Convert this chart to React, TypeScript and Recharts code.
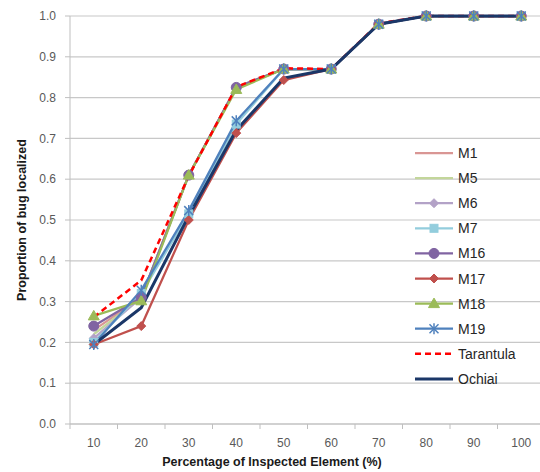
import React from "react";
import { LineChart, Line, XAxis, YAxis, CartesianGrid } from "recharts";

const categories = ["10", "20", "30", "40", "50", "60", "70", "80", "90", "100"];
const yTicks = [0, 0.1, 0.2, 0.3, 0.4, 0.5, 0.6, 0.7, 0.8, 0.9, 1.0];

const m1 = [0.23, 0.31, 0.61, 0.825, 0.87, 0.87, 0.98, 1, 1, 1];
const m5 = [0.22, 0.31, 0.61, 0.825, 0.87, 0.87, 0.98, 1, 1, 1];
const m6 = [0.21, 0.31, 0.61, 0.825, 0.87, 0.87, 0.98, 1, 1, 1];
const m7 = [0.2, 0.32, 0.515, 0.735, 0.87, 0.87, 0.98, 1, 1, 1];
const m16 = [0.24, 0.31, 0.61, 0.825, 0.87, 0.87, 0.98, 1, 1, 1];
const m17 = [0.195, 0.24, 0.5, 0.713, 0.843, 0.87, 0.98, 1, 1, 1];
const m18 = [0.265, 0.302, 0.61, 0.82, 0.87, 0.87, 0.98, 1, 1, 1];
const m19 = [0.195, 0.328, 0.523, 0.743, 0.87, 0.87, 0.98, 1, 1, 1];
const tarantula = [0.262, 0.352, 0.608, 0.826, 0.872, 0.87, 0.982, 1, 1, 1];
const ochiai = [0.195, 0.285, 0.51, 0.72, 0.848, 0.87, 0.98, 1, 1, 1];

type Shape = "none" | "diamond" | "square" | "circle" | "triangle" | "star";

const series: { key: string; values: number[]; color: string; width: number; dash?: string; shape: Shape }[] = [
  { key: "M1", values: m1, color: "#D99694", width: 2.25, shape: "none" },
  { key: "M5", values: m5, color: "#C3D69B", width: 2.25, shape: "none" },
  { key: "M6", values: m6, color: "#B3A2C7", width: 2.25, shape: "diamond" },
  { key: "M7", values: m7, color: "#93CDDD", width: 2.25, shape: "square" },
  { key: "M16", values: m16, color: "#8064A2", width: 2.25, shape: "circle" },
  { key: "M17", values: m17, color: "#C0504D", width: 2.25, shape: "diamond" },
  { key: "M18", values: m18, color: "#9BBB59", width: 2.25, shape: "triangle" },
  { key: "M19", values: m19, color: "#4F81BD", width: 2.25, shape: "star" },
  { key: "Tarantula", values: tarantula, color: "#FF0000", width: 2.5, dash: "6 4", shape: "none" },
  { key: "Ochiai", values: ochiai, color: "#1B3768", width: 3, shape: "none" },
];

const data = categories.map((c, i) => {
  const row: Record<string, string | number> = { x: c };
  series.forEach((s) => (row[s.key] = s.values[i]));
  return row;
});

const W = 545;
const H = 472;
const YW = 70;
const BW = (W - YW) / categories.length;

function marker(shape: Shape, color: string, cx: number, cy: number, key?: string) {
  switch (shape) {
    case "diamond":
      return <polygon key={key} points={`${cx},${cy - 4.5} ${cx + 4.5},${cy} ${cx},${cy + 4.5} ${cx - 4.5},${cy}`} fill={color} stroke={color} />;
    case "square":
      return <rect key={key} x={cx - 4} y={cy - 4} width={8} height={8} fill={color} stroke={color} />;
    case "circle":
      return <circle key={key} cx={cx} cy={cy} r={5} fill={color} stroke={color} />;
    case "triangle":
      return <polygon key={key} points={`${cx},${cy - 5.5} ${cx + 5.5},${cy + 4} ${cx - 5.5},${cy + 4}`} fill={color} stroke={color} />;
    case "star":
      return (
        <g key={key} stroke={color} strokeWidth={1.5}>
          <line x1={cx - 4.5} y1={cy - 4.5} x2={cx + 4.5} y2={cy + 4.5} />
          <line x1={cx - 4.5} y1={cy + 4.5} x2={cx + 4.5} y2={cy - 4.5} />
          <line x1={cx} y1={cy - 5.5} x2={cx} y2={cy + 5.5} />
        </g>
      );
    default:
      return <g key={key} />;
  }
}

const XTick = (props: any) => {
  const { x, y, payload, index } = props;
  return (
    <g>
      <line x1={x - BW / 2} y1={y} x2={x - BW / 2} y2={y + 5} stroke="#BFBFBF" />
      {index === categories.length - 1 && <line x1={x + BW / 2} y1={y} x2={x + BW / 2} y2={y + 5} stroke="#BFBFBF" />}
      <text x={x} y={y + 23} textAnchor="middle" fill="#595959" fontSize={12}>
        {payload.value}
      </text>
    </g>
  );
};

const LegendBox = () => (
  <svg width={125} height={260} style={{ position: "absolute", left: 413, top: 140, fontFamily: "'Liberation Sans', Arial, sans-serif" }}>
    {series.map((s, i) => {
      const cy = 13 + i * 25.1;
      return (
        <g key={s.key}>
          <line x1={2} y1={cy} x2={40} y2={cy} stroke={s.color} strokeWidth={s.width} strokeDasharray={s.dash} />
          {marker(s.shape, s.color, 21, cy)}
          <text x={45} y={cy + 5} fontSize={14} fill="#262626">
            {s.key}
          </text>
        </g>
      );
    })}
  </svg>
);

export default function App() {
  return (
    <div style={{ position: "absolute", left: 0, top: 0, width: 540, height: 472, overflow: "hidden", background: "#fff", fontFamily: "'Liberation Sans', Arial, sans-serif" }}>
      <LineChart width={W} height={H} data={data} margin={{ top: 16, right: 0, left: 0, bottom: 0 }}>
        <CartesianGrid vertical={false} stroke="#C8C8C8" strokeWidth={1.2} />
        <XAxis
          dataKey="x"
          height={48}
          padding={{ left: BW / 2, right: BW / 2 }}
          stroke="#BFBFBF"
          tickLine={false}
          tickSize={0}
          tickMargin={0}
          tick={<XTick />}
          interval={0}
          label={{
            content: () => (
              <text x={272} y={466} textAnchor="middle" fontSize={12.5} fontWeight="bold" fill="#1a1a1a">
                Percentage of Inspected Element (%)
              </text>
            ),
          }}
        />
        <YAxis
          width={YW}
          domain={[0, 1]}
          ticks={yTicks}
          interval={0}
          tickFormatter={(v: number) => v.toFixed(1)}
          stroke="#BFBFBF"
          tickSize={5}
          tickMargin={9}
          tick={{ fill: "#595959", fontSize: 12 }}
          label={{
            content: () => (
              <text x={26} y={220} transform="rotate(-90 26 220)" textAnchor="middle" fontSize={12.5} fontWeight="bold" fill="#1a1a1a">
                Proportion of bug localized
              </text>
            ),
          }}
        />
        {series.map((s) => (
          <Line
            key={s.key}
            dataKey={s.key}
            name={s.key}
            stroke={s.color}
            strokeWidth={s.width}
            strokeDasharray={s.dash}
            isAnimationActive={false}
            dot={(p: any) => marker(s.shape, s.color, p.cx, p.cy, `${s.key}-${p.index}`)}
            activeDot={false}
          />
        ))}
      </LineChart>
      <LegendBox />
    </div>
  );
}
